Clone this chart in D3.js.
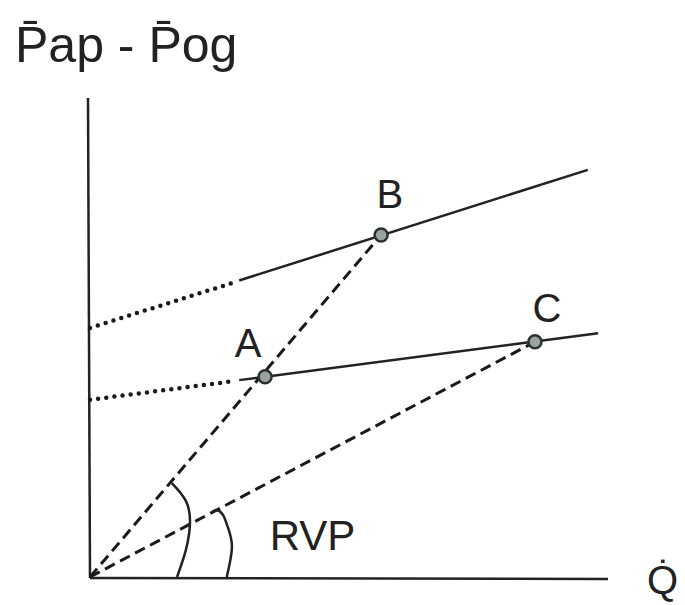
<!DOCTYPE html>
<html>
<head>
<meta charset="utf-8">
<script src="https://cdn.jsdelivr.net/npm/d3@7"></script>
<style>
  body { margin: 0; background: #fff; }
  text { font-family: "Liberation Sans", Arial, sans-serif; fill: #222; }
</style>
</head>
<body>
<svg></svg>
<script>
// chart size
const width = 685
const height = 605

// data, in chart units (0..10 on both axes)
const upperDotted = [[0, 5.20], [2.78, 6.15]]
const upperSolid = [[2.88, 6.19], [9.61, 8.50]]
const lowerDotted = [[0, 3.70], [2.78, 4.09]]
const lowerSolid = [[2.88, 4.11], [9.81, 5.09]]
const points = [
  {name: "A", x: 3.38, y: 4.18},
  {name: "B", x: 5.62, y: 7.14},
  {name: "C", x: 8.59, y: 4.91}
]
const pointLabels = [
  {name: "A", x: 3.05, y: 4.59},
  {name: "B", x: 5.79, y: 7.70},
  {name: "C", x: 8.82, y: 5.32}
]
const bigArc = [[1.68, 0], [1.85, 0.56], [1.93, 1.13], [1.85, 1.59], [1.58, 1.96]]
const smallArc = [[2.64, 0], [2.74, 0.63], [2.66, 1.04], [2.57, 1.29], [2.45, 1.40], [2.37, 1.36]]
const rvpLabel = {text: "RVP", x: 3.47, y: 0.56}

var svg = d3.select("svg")
  .attr("width", width)
  .attr("height", height)

var xScale = d3.scaleLinear().domain([0, 10]).range([90, 608])
var yScale = d3.scaleLinear().domain([0, 10]).range([577, 98])

var line = d3.line().x(d => xScale(d[0])).y(d => yScale(d[1]))
var curve = d3.line().x(d => xScale(d[0])).y(d => yScale(d[1])).curve(d3.curveNatural)

// axes, drawn by hand as plain lines
svg.append("line")
  .attr("x1", xScale(0) - 2).attr("y1", yScale(10))
  .attr("x2", xScale(0)).attr("y2", yScale(0) + 1)
  .attr("stroke", "#222").attr("stroke-width", 2.5)
svg.append("line")
  .attr("x1", xScale(0)).attr("y1", yScale(0) + 1)
  .attr("x2", xScale(10)).attr("y2", yScale(0) + 2)
  .attr("stroke", "#222").attr("stroke-width", 2.5)

// dotted extensions to the y axis
svg.selectAll(".dotted")
  .data([upperDotted, lowerDotted])
  .enter().append("path")
  .attr("class", "dotted")
  .attr("d", line)
  .attr("fill", "none")
  .attr("stroke", "#1a1a1a")
  .attr("stroke-width", 4.5)
  .attr("stroke-linecap", "round")
  .attr("stroke-dasharray", "0 8.2")

// solid lines
svg.selectAll(".solid")
  .data([upperSolid, lowerSolid])
  .enter().append("path")
  .attr("class", "solid")
  .attr("d", line)
  .attr("fill", "none")
  .attr("stroke", "#222")
  .attr("stroke-width", 2.5)

// dashed rays from origin to B and C
svg.selectAll(".ray")
  .data(points.filter(d => d.name !== "A"))
  .enter().append("path")
  .attr("class", "ray")
  .attr("d", d => line([[0, 0], [d.x, d.y]]))
  .attr("fill", "none")
  .attr("stroke", "#1a1a1a")
  .attr("stroke-width", 3)
  .attr("stroke-dasharray", "11 6")

// angle arcs
svg.selectAll(".arc")
  .data([bigArc, smallArc])
  .enter().append("path")
  .attr("class", "arc")
  .attr("d", curve)
  .attr("fill", "none")
  .attr("stroke", "#222")
  .attr("stroke-width", 2.5)

// point markers
svg.selectAll(".pt")
  .data(points)
  .enter().append("circle")
  .attr("class", "pt")
  .attr("cx", d => xScale(d.x))
  .attr("cy", d => yScale(d.y))
  .attr("r", 6.5)
  .attr("fill", "#9aa39e")
  .attr("stroke", "#2b3330")
  .attr("stroke-width", 2.5)

// labels
svg.selectAll(".lbl")
  .data(pointLabels)
  .enter().append("text")
  .attr("class", "lbl")
  .attr("x", d => xScale(d.x))
  .attr("y", d => yScale(d.y))
  .attr("text-anchor", "middle")
  .attr("font-size", 40)
  .text(d => d.name)

svg.append("text")
  .attr("x", xScale(rvpLabel.x))
  .attr("y", yScale(rvpLabel.y))
  .attr("font-size", 42)
  .text(rvpLabel.text)

svg.append("text")
  .attr("x", 647)
  .attr("y", 594)
  .attr("font-size", 40)
  .text("Q\u0307")

svg.append("text")
  .attr("x", 15)
  .attr("y", 62)
  .attr("font-size", 50)
  .text("P\u0304ap - P\u0304og")
</script>
</body>
</html>
